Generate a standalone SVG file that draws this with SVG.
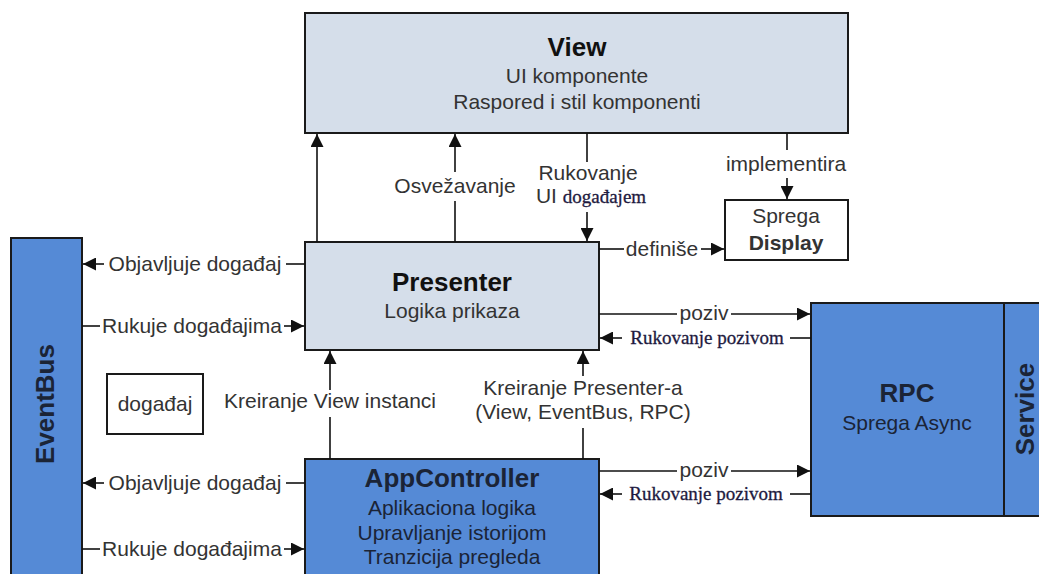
<svg xmlns="http://www.w3.org/2000/svg" width="1039" height="574" viewBox="0 0 1039 574">
  <defs>
    <marker id="arr" viewBox="0 0 10 10" refX="10" refY="5" markerWidth="16" markerHeight="13" markerUnits="userSpaceOnUse" orient="auto">
      <path d="M0,0 L10,5 L0,10 z" fill="#111"/>
    </marker>
    <style>
      .light { fill: #d5deea; stroke: #1a1a1a; stroke-width: 2; }
      .blue { fill: #558ad6; stroke: #1a1a1a; stroke-width: 2; }
      .plain { fill: #ffffff; stroke: #1a1a1a; stroke-width: 2; }
      .t { font-family: "Liberation Sans", Arial, sans-serif; font-size: 21px; fill: #333; text-anchor: middle; }
      .tb { font-family: "Liberation Sans", Arial, sans-serif; font-size: 26px; font-weight: bold; fill: #111; text-anchor: middle; }
      .tn { fill: #1b2436; }
      .ser { font-family: "Liberation Serif", "Times New Roman", serif; font-size: 19px; fill: #1e1a40; stroke: #1e1a40; stroke-width: 0.3; text-anchor: middle; }
      .c { stroke: #111; stroke-width: 1.6; fill: none; }
      .ca { stroke: #111; stroke-width: 1.6; fill: none; marker-end: url(#arr); }
    </style>
  </defs>
  <rect width="1039" height="574" fill="#ffffff"/>

  <!-- View -->
  <g id="view">
    <rect class="light" x="305" y="13" width="543" height="120"/>
    <text class="tb" x="577" y="56">View</text>
    <text class="t" x="577" y="83">UI komponente</text>
    <text class="t" x="577" y="109">Raspored i stil komponenti</text>
  </g>

  <!-- Presenter -->
  <g id="presenter">
    <rect class="light" x="305" y="242" width="294" height="108"/>
    <text class="tb" x="452" y="291">Presenter</text>
    <text class="t" x="452" y="318">Logika prikaza</text>
  </g>

  <!-- Display interface -->
  <g id="display">
    <rect class="plain" x="725" y="200" width="123" height="60"/>
    <text class="t" x="786" y="223">Sprega</text>
    <text class="t" x="786" y="250" font-weight="bold" fill="#111">Display</text>
  </g>

  <!-- EventBus -->
  <g id="eventbus">
    <rect class="blue" x="11" y="238" width="71" height="350"/>
    <text class="tb tn" transform="translate(54,404) rotate(-90)" x="0" y="0">EventBus</text>
  </g>

  <!-- event -->
  <g id="event">
    <rect class="plain" x="107" y="374" width="96" height="60"/>
    <text class="t" x="155" y="411">događaj</text>
  </g>

  <!-- AppController -->
  <g id="appcontroller">
    <rect class="blue" x="305" y="459" width="294" height="130"/>
    <text class="tb tn" x="452" y="487">AppController</text>
    <text class="t tn" x="452" y="515">Aplikaciona logika</text>
    <text class="t tn" x="452" y="540">Upravljanje istorijom</text>
    <text class="t tn" x="452" y="564">Tranzicija pregleda</text>
  </g>

  <!-- RPC -->
  <g id="rpc">
    <rect class="blue" x="811" y="303" width="193" height="213"/>
    <text class="tb tn" x="907" y="402">RPC</text>
    <text class="t tn" x="907" y="430">Sprega Async</text>
  </g>

  <!-- Service -->
  <g id="service">
    <rect class="blue" x="1004" y="303" width="50" height="213"/>
    <text class="tb tn" transform="translate(1034,409) rotate(-90)" x="0" y="0">Service</text>
  </g>

  <!-- connectors -->
  <g id="connectors">
    <!-- Presenter to View -->
    <line class="ca" x1="317" y1="242" x2="317" y2="134"/>
    <line class="c" x1="455" y1="242" x2="455" y2="201"/>
    <line class="ca" x1="455" y1="172" x2="455" y2="134"/>
    <text class="t" x="455" y="193">Osvežavanje</text>

    <!-- View to Presenter -->
    <line class="c" x1="587" y1="133" x2="587" y2="162"/>
    <line class="ca" x1="587" y1="212" x2="587" y2="241"/>
    <text class="t" x="588" y="180">Rukovanje</text>
    <text class="t" x="591" y="203">UI <tspan class="ser" font-size="20">događajem</tspan></text>

    <!-- View implements Display -->
    <line class="c" x1="787" y1="133" x2="787" y2="150"/>
    <line class="ca" x1="787" y1="178" x2="787" y2="199"/>
    <text class="t" x="786" y="171">implementira</text>

    <!-- Presenter defines Display -->
    <line class="c" x1="599" y1="249" x2="624" y2="249"/>
    <line class="ca" x1="701" y1="249" x2="724" y2="249"/>
    <text class="t" x="662" y="256">definiše</text>

    <!-- Presenter and EventBus -->
    <line class="c" x1="305" y1="264" x2="286" y2="264"/>
    <line class="ca" x1="104" y1="264" x2="83" y2="264"/>
    <text class="t" x="195" y="271">Objavljuje događaj</text>
    <line class="c" x1="82" y1="326" x2="100" y2="326"/>
    <line class="ca" x1="284" y1="326" x2="304" y2="326"/>
    <text class="t" x="192" y="333">Rukuje događajima</text>

    <!-- Presenter and RPC -->
    <line class="c" x1="599" y1="314" x2="677" y2="314"/>
    <line class="ca" x1="731" y1="314" x2="810" y2="314"/>
    <text class="t" x="704" y="320">poziv</text>
    <line class="c" x1="811" y1="338" x2="790" y2="338"/>
    <line class="ca" x1="622" y1="338" x2="600" y2="338"/>
    <text class="ser" x="707" y="344">Rukovanje pozivom</text>

    <!-- AppController to Presenter -->
    <line class="c" x1="330" y1="459" x2="330" y2="417"/>
    <line class="ca" x1="330" y1="390" x2="330" y2="351"/>
    <text class="t" x="330" y="408">Kreiranje View instanci</text>
    <line class="c" x1="583" y1="459" x2="583" y2="428"/>
    <line class="ca" x1="583" y1="376" x2="583" y2="351"/>
    <text class="t" x="583" y="395">Kreiranje Presenter-a</text>
    <text class="t" x="583" y="419">(View, EventBus, RPC)</text>

    <!-- AppController and EventBus -->
    <line class="c" x1="305" y1="483" x2="286" y2="483"/>
    <line class="ca" x1="104" y1="483" x2="83" y2="483"/>
    <text class="t" x="195" y="490">Objavljuje događaj</text>
    <line class="c" x1="82" y1="549" x2="100" y2="549"/>
    <line class="ca" x1="284" y1="549" x2="304" y2="549"/>
    <text class="t" x="192" y="556">Rukuje događajima</text>

    <!-- AppController and RPC -->
    <line class="c" x1="599" y1="471" x2="677" y2="471"/>
    <line class="ca" x1="731" y1="471" x2="810" y2="471"/>
    <text class="t" x="704" y="477">poziv</text>
    <line class="c" x1="811" y1="494" x2="790" y2="494"/>
    <line class="ca" x1="622" y1="494" x2="600" y2="494"/>
    <text class="ser" x="706" y="500">Rukovanje pozivom</text>
  </g>
</svg>
